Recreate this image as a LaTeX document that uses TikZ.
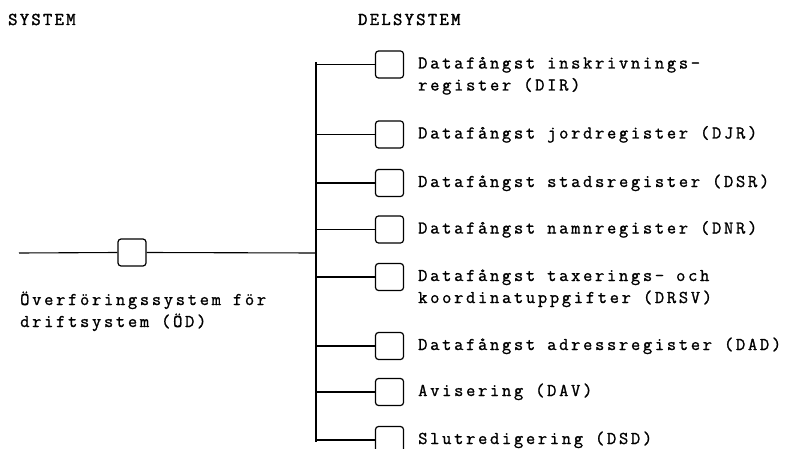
\documentclass[tikz,border=0pt]{standalone}
\usepackage{fontspec}
\newfontfamily\headfont[LetterSpace=13,FakeBold=2]{Latin Modern Mono}
\newfontfamily\bodyfont[LetterSpace=15,FakeBold=1.2]{Latin Modern Mono}
\begin{document}
\begin{tikzpicture}[x=1pt,y=-1pt,
  wire/.style={line width=1.1pt},
  unit/.style={draw,line width=1.2pt,rounded corners=3pt,minimum width=28pt,minimum height=27pt,inner sep=0pt},
  head/.style={anchor=base west,inner sep=0pt,font=\headfont\fontsize{18}{22}\selectfont},
  label/.style={anchor=base west,inner sep=0pt,align=left,font=\bodyfont\fontsize{18}{22}\selectfont}]
\useasboundingbox (0,0) rectangle (786,449);

% column headings
\node[head] (hsys) at (8,25) {SYSTEM};
\node[head] (hdel) at (358,25) {DELSYSTEM};

% transfer system on the main line
\coordinate (m0) at (19,253);
\coordinate (mj) at (316,253);
\node[unit] (od) at (132,252.5) {};
\node[label] (odtext) at (20,327) {Överföringssystem för\\driftsystem (ÖD)};
\draw[wire] (m0) -- (od.west);
\draw[wire] (od.east) -- (mj);

% trunk of the subsystems
\coordinate (ttop) at (316,62);
\coordinate (tbot) at (316,442);
\draw[wire] (ttop) -- (tbot);

% subsystems: junction on the trunk, box, label (base of its last line)
\foreach \n/\y/\dy/\txt in {
  dir/64.5/22/{Datafångst inskrivnings-\\register (DIR)},
  djr/134.5/0/{Datafångst jordregister (DJR)},
  dsr/183/0/{Datafångst stadsregister (DSR)},
  dnr/229.5/0/{Datafångst namnregister (DNR)},
  drsv/277/22/{Datafångst taxerings- och\\koordinatuppgifter (DRSV)},
  dad/346/0/{Datafångst adressregister (DAD)},
  dav/392/0/{Avisering (DAV)},
  dsd/440/0/{Slutredigering (DSD)}}
{
  \coordinate (j\n) at (316,\y);
  \node[unit] (b\n) at (389.5,\y) {};
  \node[label] (t\n) at (418,\y+4+\dy) {\txt};
  \draw[wire] (j\n) -- (b\n.west);
}
\end{tikzpicture}
\end{document}
